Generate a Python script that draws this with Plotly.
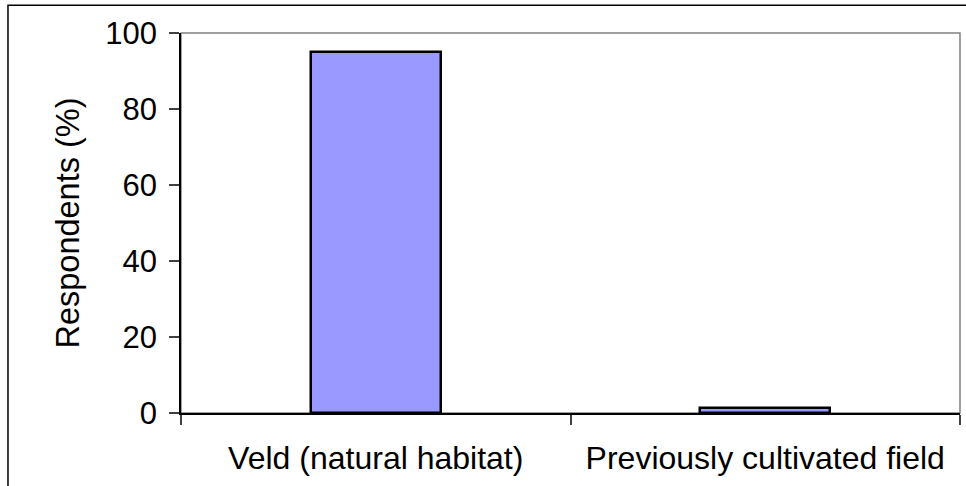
import plotly.graph_objects as go

categories = ["Veld (natural habitat)", "Previously cultivated field"]
respondents_pct = [95, 1.2]
y_ticks = [0, 20, 40, 60, 80, 100]
y_title = "Respondents (%)"

FONT = "Liberation Sans, Arial, sans-serif"

fig = go.Figure()
fig.add_trace(go.Bar(
    x=categories,
    y=respondents_pct,
    width=0.334,
    marker=dict(color="#9999FF", line=dict(color="black", width=2.5)),
))

# plot area border (grey) and outer chart border (black)
fig.add_shape(type="rect", xref="paper", yref="paper", x0=0, x1=1, y0=0, y1=1,
              line=dict(color="#808080", width=1.5), layer="below")
fig.add_shape(type="rect", xref="paper", yref="paper", x0=-0.2221, x1=1.03, y0=-0.25, y1=1.073,
              line=dict(color="black", width=1.5), layer="below")

fig.update_layout(
    width=966, height=486,
    margin=dict(l=181, r=6, t=33, b=73),
    paper_bgcolor="white", plot_bgcolor="white",
    font=dict(family=FONT, size=32, color="black"),
    showlegend=False,
    bargap=0,
)
fig.update_xaxes(
    type="category",
    tickson="boundaries",
    ticks="outside", ticklen=10, tickcolor="#404040", tickwidth=1.5,
    showline=True, linecolor="black", linewidth=1.5,
    showgrid=False, zeroline=False,
    tickfont=dict(family=FONT, size=32, color="black"),
    ticklabelstandoff=16,
    range=[-0.5, 1.5],
)
fig.update_yaxes(
    range=[0, 100],
    tickvals=y_ticks,
    ticks="outside", ticklen=10, tickcolor="#404040", tickwidth=1.5,
    showline=True, linecolor="black", linewidth=1.5,
    showgrid=False, zeroline=False,
    tickfont=dict(family=FONT, size=31, color="black"),
    ticklabelstandoff=6,
    title=dict(text=y_title, font=dict(family=FONT, size=32.5, color="black"), standoff=16),
)

fig.write_html("out.html")
